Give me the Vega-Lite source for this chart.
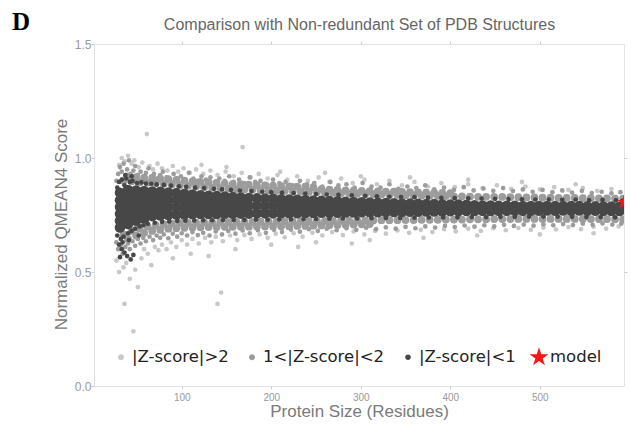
{
"$schema":"https://vega.github.io/schema/vega-lite/v6.json",
"width":530,"height":342,
"autosize":{"type":"none"},
"padding":{"left":94,"top":44,"right":7,"bottom":42},
"background":"white",
"title":{"text":"D","anchor":"start","frame":"group","font":"Liberation Serif","fontSize":25,"fontWeight":"bold","color":"#000000","dx":-82,"dy":22},
"config":{"view":{"stroke":"#e3e3e3","strokeWidth":1},"axis":{"grid":false,"domain":false,"labelFont":"Liberation Sans","titleFont":"Liberation Sans","titleFontWeight":"normal"}},
"resolve":{"axis":{"x":"independent","y":"independent"}},
"datasets":{
"lt":[{"x":30,"y":0.97},{"x":33,"y":1.0},{"x":36,"y":0.985},{"x":40,"y":1.01},{"x":44,"y":0.975},{"x":47,"y":0.99},{"x":52,"y":0.96},{"x":56,"y":0.98},{"x":61,"y":1.105},{"x":64,"y":0.965},{"x":68,"y":0.95},{"x":73,"y":0.975},{"x":78,"y":0.955},{"x":84,"y":0.945},{"x":90,"y":0.965},{"x":96,"y":0.94},{"x":102,"y":0.955},{"x":109,"y":0.935},{"x":116,"y":0.95},{"x":124,"y":0.93},{"x":132,"y":0.945},{"x":140,"y":0.925},{"x":149,"y":0.94},{"x":158,"y":0.92},{"x":168,"y":1.048},{"x":167,"y":0.935},{"x":177,"y":0.915},{"x":186,"y":0.93},{"x":196,"y":0.91},{"x":207,"y":0.925},{"x":218,"y":0.905},{"x":229,"y":0.92},{"x":241,"y":0.9},{"x":253,"y":0.915},{"x":265,"y":0.895},{"x":278,"y":0.91},{"x":291,"y":0.89},{"x":304,"y":0.905},{"x":318,"y":0.885},{"x":332,"y":0.9},{"x":346,"y":0.88},{"x":360,"y":0.895},{"x":375,"y":0.875},{"x":390,"y":0.89},{"x":405,"y":0.872},{"x":420,"y":0.885},{"x":436,"y":0.868},{"x":452,"y":0.88},{"x":468,"y":0.865},{"x":484,"y":0.875},{"x":500,"y":0.862},{"x":516,"y":0.872},{"x":532,"y":0.86},{"x":548,"y":0.868},{"x":564,"y":0.856},{"x":580,"y":0.864},{"x":122,"y":0.97},{"x":210,"y":0.94},{"x":300,"y":0.92},{"x":420,"y":0.905},{"x":150,"y":0.96},{"x":260,"y":0.935},{"x":355,"y":0.915},{"x":480,"y":0.895},{"x":540,"y":0.885},
{"x":27,"y":0.55},{"x":30,"y":0.5},{"x":36,"y":0.36},{"x":35,"y":0.52},{"x":38,"y":0.54},{"x":42,"y":0.47},{"x":46,"y":0.24},{"x":48,"y":0.51},{"x":51,"y":0.434},{"x":55,"y":0.56},{"x":58,"y":0.6},{"x":62,"y":0.58},{"x":66,"y":0.53},{"x":70,"y":0.61},{"x":74,"y":0.595},{"x":78,"y":0.62},{"x":83,"y":0.6},{"x":88,"y":0.63},{"x":94,"y":0.61},{"x":100,"y":0.64},{"x":106,"y":0.62},{"x":112,"y":0.645},{"x":119,"y":0.625},{"x":126,"y":0.65},{"x":133,"y":0.63},{"x":140,"y":0.36},{"x":144,"y":0.41},{"x":138,"y":0.655},{"x":146,"y":0.635},{"x":154,"y":0.66},{"x":162,"y":0.64},{"x":170,"y":0.662},{"x":178,"y":0.645},{"x":187,"y":0.665},{"x":196,"y":0.65},{"x":205,"y":0.668},{"x":215,"y":0.652},{"x":225,"y":0.67},{"x":235,"y":0.655},{"x":246,"y":0.672},{"x":257,"y":0.66},{"x":268,"y":0.675},{"x":280,"y":0.662},{"x":292,"y":0.678},{"x":304,"y":0.665},{"x":316,"y":0.68},{"x":328,"y":0.668},{"x":341,"y":0.682},{"x":354,"y":0.672},{"x":367,"y":0.685},{"x":380,"y":0.675},{"x":393,"y":0.688},{"x":406,"y":0.678},{"x":420,"y":0.69},{"x":434,"y":0.68},{"x":448,"y":0.692},{"x":462,"y":0.683},{"x":476,"y":0.693},{"x":490,"y":0.685},{"x":504,"y":0.695},{"x":518,"y":0.687},{"x":532,"y":0.697},{"x":546,"y":0.688},{"x":560,"y":0.698},{"x":574,"y":0.69},{"x":588,"y":0.7},{"x":110,"y":0.58},{"x":160,"y":0.6},{"x":200,"y":0.62},{"x":250,"y":0.63},{"x":310,"y":0.64},{"x":370,"y":0.65},{"x":430,"y":0.66},{"x":500,"y":0.665},{"x":560,"y":0.67},{"x":90,"y":0.56},{"x":130,"y":0.57},{"x":230,"y":0.61},{"x":290,"y":0.625}],
"mc":[{"x":35,"y":0.9},{"x":44,"y":0.898},{"x":53,"y":0.894},{"x":62,"y":0.892},{"x":71,"y":0.889},{"x":80,"y":0.887},{"x":89,"y":0.884},{"x":98,"y":0.881},{"x":107,"y":0.878},{"x":116,"y":0.875},{"x":125,"y":0.872},{"x":134,"y":0.87},{"x":143,"y":0.868},{"x":152,"y":0.866},{"x":161,"y":0.864},{"x":170,"y":0.862},{"x":179,"y":0.86},{"x":188,"y":0.859},{"x":197,"y":0.858},{"x":206,"y":0.856},{"x":215,"y":0.855},{"x":224,"y":0.854},{"x":233,"y":0.852},{"x":242,"y":0.851},{"x":251,"y":0.85},{"x":260,"y":0.848},{"x":269,"y":0.847},{"x":278,"y":0.845},{"x":287,"y":0.844},{"x":296,"y":0.843},{"x":305,"y":0.842},{"x":314,"y":0.841},{"x":323,"y":0.84},{"x":332,"y":0.839},{"x":341,"y":0.838},{"x":350,"y":0.837},{"x":359,"y":0.836},{"x":368,"y":0.835},{"x":377,"y":0.834},{"x":386,"y":0.834},{"x":395,"y":0.833},{"x":404,"y":0.832},{"x":413,"y":0.832},{"x":422,"y":0.831},{"x":431,"y":0.83},{"x":440,"y":0.83},{"x":449,"y":0.83},{"x":458,"y":0.829},{"x":467,"y":0.828},{"x":476,"y":0.828},{"x":485,"y":0.827},{"x":494,"y":0.827},{"x":503,"y":0.826},{"x":512,"y":0.826},{"x":521,"y":0.825},{"x":530,"y":0.825},{"x":539,"y":0.825},{"x":548,"y":0.824},{"x":557,"y":0.824},{"x":566,"y":0.823},{"x":575,"y":0.823},{"x":584,"y":0.822},{"x":593,"y":0.822},
{"x":40,"y":0.919},{"x":49,"y":0.916},{"x":58,"y":0.914},{"x":67,"y":0.912},{"x":76,"y":0.91},{"x":85,"y":0.907},{"x":94,"y":0.904},{"x":103,"y":0.901},{"x":112,"y":0.898},{"x":121,"y":0.895},{"x":130,"y":0.893},{"x":139,"y":0.891},{"x":148,"y":0.889},{"x":157,"y":0.887},{"x":166,"y":0.885},{"x":175,"y":0.883},{"x":184,"y":0.881},{"x":193,"y":0.88},{"x":202,"y":0.879},{"x":211,"y":0.877},{"x":220,"y":0.876},{"x":229,"y":0.875},{"x":238,"y":0.874},{"x":247,"y":0.872},{"x":256,"y":0.863},{"x":265,"y":0.861},{"x":274,"y":0.86},{"x":283,"y":0.858},{"x":292,"y":0.857},{"x":301,"y":0.856},{"x":310,"y":0.855},{"x":319,"y":0.854},{"x":328,"y":0.853},{"x":337,"y":0.852},{"x":346,"y":0.851},{"x":355,"y":0.85},{"x":364,"y":0.849},{"x":373,"y":0.848},{"x":382,"y":0.848},{"x":391,"y":0.847},{"x":400,"y":0.846},
{"x":35,"y":0.665},{"x":44,"y":0.68},{"x":53,"y":0.69},{"x":62,"y":0.7},{"x":71,"y":0.706},{"x":80,"y":0.71},{"x":89,"y":0.713},{"x":98,"y":0.715},{"x":107,"y":0.716},{"x":116,"y":0.717},{"x":125,"y":0.718},{"x":134,"y":0.718},{"x":143,"y":0.719},{"x":152,"y":0.719},{"x":161,"y":0.72},{"x":170,"y":0.72},{"x":179,"y":0.72},{"x":188,"y":0.721},{"x":197,"y":0.721},{"x":206,"y":0.721},{"x":215,"y":0.722},{"x":224,"y":0.722},{"x":233,"y":0.722},{"x":242,"y":0.723},{"x":251,"y":0.723},{"x":260,"y":0.724},{"x":269,"y":0.724},{"x":278,"y":0.725},{"x":287,"y":0.725},{"x":296,"y":0.726},{"x":305,"y":0.726},{"x":314,"y":0.726},{"x":323,"y":0.727},{"x":332,"y":0.727},{"x":341,"y":0.727},{"x":350,"y":0.728},{"x":359,"y":0.728},{"x":368,"y":0.729},{"x":377,"y":0.729},{"x":386,"y":0.729},{"x":395,"y":0.73},{"x":404,"y":0.73},{"x":413,"y":0.73},{"x":422,"y":0.731},{"x":431,"y":0.731},{"x":440,"y":0.731},{"x":449,"y":0.732},{"x":458,"y":0.732},{"x":467,"y":0.732},{"x":476,"y":0.733},{"x":485,"y":0.733},{"x":494,"y":0.733},{"x":503,"y":0.733},{"x":512,"y":0.733},{"x":521,"y":0.733},{"x":530,"y":0.733},{"x":539,"y":0.733},{"x":548,"y":0.733},{"x":557,"y":0.732},{"x":566,"y":0.732},{"x":575,"y":0.732},{"x":584,"y":0.731},{"x":593,"y":0.731},
{"x":40,"y":0.645},{"x":49,"y":0.66},{"x":58,"y":0.672},{"x":67,"y":0.68},{"x":76,"y":0.685},{"x":85,"y":0.69},{"x":94,"y":0.692},{"x":103,"y":0.694},{"x":112,"y":0.695},{"x":121,"y":0.696},{"x":130,"y":0.697},{"x":139,"y":0.697},{"x":148,"y":0.698},{"x":157,"y":0.698},{"x":166,"y":0.699},{"x":175,"y":0.699},{"x":184,"y":0.7},{"x":193,"y":0.7},{"x":202,"y":0.7},{"x":211,"y":0.701},{"x":220,"y":0.701},{"x":229,"y":0.702},{"x":238,"y":0.702},{"x":247,"y":0.703},{"x":256,"y":0.704},{"x":265,"y":0.705},{"x":274,"y":0.706},{"x":283,"y":0.707},{"x":292,"y":0.708},{"x":301,"y":0.709},{"x":310,"y":0.71}],
"ms":[{"x":27,"y":0.9},{"x":29,"y":0.93},{"x":31,"y":0.96},{"x":33,"y":0.94},{"x":35,"y":0.975},{"x":37,"y":0.92},{"x":39,"y":0.95},{"x":41,"y":0.99},{"x":43,"y":0.93},{"x":46,"y":0.945},{"x":48,"y":0.965},{"x":51,"y":0.925},{"x":54,"y":0.94},{"x":57,"y":0.915},{"x":60,"y":0.935},{"x":63,"y":0.955},{"x":66,"y":0.92},{"x":69,"y":0.93},{"x":72,"y":0.91},{"x":76,"y":0.925},{"x":79,"y":0.94},{"x":83,"y":0.915},{"x":87,"y":0.905},{"x":91,"y":0.93},{"x":95,"y":0.91},{"x":99,"y":0.92},{"x":104,"y":0.905},{"x":108,"y":0.935},{"x":113,"y":0.91},{"x":118,"y":0.9},{"x":122,"y":0.92},{"x":127,"y":0.905},{"x":132,"y":0.915},{"x":137,"y":0.895},{"x":142,"y":0.91},{"x":148,"y":0.9},{"x":153,"y":0.92},{"x":158,"y":0.895},{"x":164,"y":0.905},{"x":170,"y":0.89},{"x":176,"y":0.915},{"x":182,"y":0.895},{"x":188,"y":0.9},{"x":195,"y":0.885},{"x":202,"y":0.905},{"x":209,"y":0.89},{"x":216,"y":0.895},{"x":224,"y":0.88},{"x":232,"y":0.9},{"x":240,"y":0.885},{"x":248,"y":0.89},{"x":257,"y":0.875},{"x":266,"y":0.895},{"x":275,"y":0.88},{"x":284,"y":0.885},{"x":293,"y":0.87},{"x":302,"y":0.89},{"x":312,"y":0.875},{"x":322,"y":0.87},{"x":332,"y":0.885},{"x":342,"y":0.865},{"x":352,"y":0.875},{"x":362,"y":0.868},{"x":372,"y":0.88},{"x":382,"y":0.862},{"x":393,"y":0.87},{"x":404,"y":0.86},{"x":415,"y":0.872},{"x":426,"y":0.858},{"x":437,"y":0.866},{"x":448,"y":0.856},{"x":459,"y":0.868},{"x":470,"y":0.855},{"x":481,"y":0.862},{"x":492,"y":0.852},{"x":503,"y":0.86},{"x":514,"y":0.85},{"x":525,"y":0.858},{"x":536,"y":0.848},{"x":547,"y":0.856},{"x":558,"y":0.846},{"x":569,"y":0.852},{"x":580,"y":0.845},{"x":590,"y":0.85},
{"x":27,"y":0.63},{"x":29,"y":0.6},{"x":32,"y":0.62},{"x":34,"y":0.58},{"x":37,"y":0.61},{"x":40,"y":0.625},{"x":42,"y":0.6},{"x":45,"y":0.635},{"x":48,"y":0.615},{"x":51,"y":0.645},{"x":54,"y":0.625},{"x":57,"y":0.65},{"x":60,"y":0.635},{"x":64,"y":0.655},{"x":68,"y":0.64},{"x":72,"y":0.66},{"x":76,"y":0.65},{"x":80,"y":0.665},{"x":85,"y":0.648},{"x":90,"y":0.668},{"x":95,"y":0.655},{"x":100,"y":0.67},{"x":106,"y":0.66},{"x":112,"y":0.675},{"x":118,"y":0.662},{"x":124,"y":0.672},{"x":131,"y":0.66},{"x":138,"y":0.678},{"x":145,"y":0.665},{"x":152,"y":0.68},{"x":160,"y":0.668},{"x":168,"y":0.682},{"x":176,"y":0.67},{"x":185,"y":0.683},{"x":194,"y":0.672},{"x":203,"y":0.685},{"x":212,"y":0.675},{"x":222,"y":0.686},{"x":232,"y":0.677},{"x":242,"y":0.688},{"x":252,"y":0.68},{"x":262,"y":0.69},{"x":273,"y":0.683},{"x":284,"y":0.692},{"x":295,"y":0.685},{"x":306,"y":0.694},{"x":317,"y":0.688},{"x":328,"y":0.696},{"x":339,"y":0.69},{"x":350,"y":0.698},{"x":361,"y":0.692},{"x":372,"y":0.7},{"x":383,"y":0.695},{"x":394,"y":0.702},{"x":405,"y":0.697},{"x":416,"y":0.704},{"x":427,"y":0.699},{"x":438,"y":0.705},{"x":449,"y":0.7},{"x":460,"y":0.707},{"x":471,"y":0.702},{"x":482,"y":0.708},{"x":493,"y":0.703},{"x":504,"y":0.709},{"x":515,"y":0.705},{"x":526,"y":0.71},{"x":537,"y":0.706},{"x":548,"y":0.712},{"x":559,"y":0.707},{"x":570,"y":0.713},{"x":581,"y":0.708},{"x":591,"y":0.712}],
"dc":[{"x":31,"y":0.695},{"x":31,"y":0.725},{"x":31,"y":0.755},{"x":31,"y":0.785},{"x":31,"y":0.815},{"x":31,"y":0.848},
{"x":40,"y":0.71},{"x":40,"y":0.74},{"x":40,"y":0.77},{"x":40,"y":0.8},{"x":40,"y":0.83},{"x":40,"y":0.86},
{"x":49,"y":0.725},{"x":49,"y":0.752},{"x":49,"y":0.779},{"x":49,"y":0.806},{"x":49,"y":0.833},{"x":49,"y":0.858},
{"x":58,"y":0.735},{"x":58,"y":0.765},{"x":58,"y":0.795},{"x":58,"y":0.825},{"x":58,"y":0.855},
{"x":67,"y":0.745},{"x":67,"y":0.772},{"x":67,"y":0.799},{"x":67,"y":0.826},{"x":67,"y":0.853},
{"x":76,"y":0.748},{"x":76,"y":0.775},{"x":76,"y":0.802},{"x":76,"y":0.828},{"x":76,"y":0.852},
{"x":85,"y":0.75},{"x":85,"y":0.784},{"x":85,"y":0.817},{"x":85,"y":0.849},
{"x":94,"y":0.752},{"x":94,"y":0.784},{"x":94,"y":0.815},{"x":94,"y":0.846},
{"x":103,"y":0.752},{"x":103,"y":0.783},{"x":103,"y":0.813},{"x":103,"y":0.843},
{"x":112,"y":0.753},{"x":112,"y":0.782},{"x":112,"y":0.811},{"x":112,"y":0.84},
{"x":121,"y":0.754},{"x":121,"y":0.782},{"x":121,"y":0.81},{"x":121,"y":0.837},
{"x":130,"y":0.754},{"x":130,"y":0.781},{"x":130,"y":0.808},{"x":130,"y":0.835},
{"x":139,"y":0.754},{"x":139,"y":0.781},{"x":139,"y":0.807},{"x":139,"y":0.833},
{"x":148,"y":0.755},{"x":148,"y":0.781},{"x":148,"y":0.806},{"x":148,"y":0.831},
{"x":157,"y":0.755},{"x":157,"y":0.78},{"x":157,"y":0.805},{"x":157,"y":0.829},
{"x":166,"y":0.756},{"x":166,"y":0.78},{"x":166,"y":0.804},{"x":166,"y":0.827},
{"x":175,"y":0.756},{"x":175,"y":0.79},{"x":175,"y":0.825},
{"x":184,"y":0.757},{"x":184,"y":0.79},{"x":184,"y":0.823},
{"x":193,"y":0.757},{"x":193,"y":0.79},{"x":193,"y":0.822},
{"x":202,"y":0.757},{"x":202,"y":0.789},{"x":202,"y":0.821},
{"x":211,"y":0.758},{"x":211,"y":0.789},{"x":211,"y":0.819},
{"x":220,"y":0.758},{"x":220,"y":0.788},{"x":220,"y":0.818},
{"x":229,"y":0.758},{"x":229,"y":0.788},{"x":229,"y":0.817},
{"x":238,"y":0.759},{"x":238,"y":0.788},{"x":238,"y":0.816},
{"x":247,"y":0.759},{"x":247,"y":0.787},{"x":247,"y":0.814},
{"x":256,"y":0.76},{"x":256,"y":0.787},{"x":256,"y":0.813},
{"x":265,"y":0.76},{"x":265,"y":0.786},{"x":265,"y":0.811},
{"x":274,"y":0.76},{"x":274,"y":0.785},{"x":274,"y":0.81},
{"x":283,"y":0.761},{"x":283,"y":0.785},{"x":283,"y":0.808},
{"x":292,"y":0.761},{"x":292,"y":0.784},{"x":292,"y":0.807},
{"x":301,"y":0.762},{"x":301,"y":0.784},{"x":301,"y":0.806},
{"x":310,"y":0.762},{"x":310,"y":0.784},{"x":310,"y":0.805},
{"x":319,"y":0.762},{"x":319,"y":0.783},{"x":319,"y":0.804},
{"x":328,"y":0.763},{"x":328,"y":0.783},{"x":328,"y":0.803},
{"x":337,"y":0.763},{"x":337,"y":0.783},{"x":337,"y":0.802},
{"x":346,"y":0.763},{"x":346,"y":0.782},{"x":346,"y":0.801},
{"x":355,"y":0.764},{"x":355,"y":0.782},{"x":355,"y":0.8},
{"x":364,"y":0.764},{"x":364,"y":0.782},{"x":364,"y":0.799},
{"x":373,"y":0.765},{"x":373,"y":0.782},{"x":373,"y":0.798},
{"x":382,"y":0.765},{"x":382,"y":0.782},{"x":382,"y":0.798},
{"x":391,"y":0.765},{"x":391,"y":0.781},{"x":391,"y":0.797},
{"x":400,"y":0.766},{"x":400,"y":0.781},{"x":400,"y":0.796},
{"x":409,"y":0.766},{"x":409,"y":0.781},{"x":409,"y":0.796},
{"x":418,"y":0.767},{"x":418,"y":0.781},{"x":418,"y":0.795},
{"x":427,"y":0.767},{"x":427,"y":0.793},{"x":436,"y":0.768},{"x":436,"y":0.792},{"x":445,"y":0.767},{"x":445,"y":0.792},{"x":454,"y":0.768},{"x":454,"y":0.791},{"x":463,"y":0.768},{"x":463,"y":0.791},{"x":472,"y":0.769},{"x":472,"y":0.791},{"x":481,"y":0.768},{"x":481,"y":0.79},{"x":490,"y":0.769},{"x":490,"y":0.79},{"x":499,"y":0.769},{"x":499,"y":0.79},{"x":508,"y":0.77},{"x":508,"y":0.79},{"x":517,"y":0.769},{"x":517,"y":0.789},{"x":526,"y":0.77},{"x":526,"y":0.789},{"x":535,"y":0.769},{"x":535,"y":0.789},{"x":544,"y":0.77},{"x":544,"y":0.789},{"x":553,"y":0.768},{"x":553,"y":0.788},{"x":562,"y":0.769},{"x":562,"y":0.788},{"x":571,"y":0.768},{"x":571,"y":0.787},{"x":580,"y":0.767},{"x":580,"y":0.787},{"x":589,"y":0.767},{"x":589,"y":0.786}],
"de":[{"x":28,"y":0.87},{"x":30,"y":0.895},{"x":33,"y":0.905},{"x":36,"y":0.88},{"x":38,"y":0.91},{"x":42,"y":0.895},{"x":45,"y":0.9},{"x":50,"y":0.89},{"x":55,"y":0.893},{"x":60,"y":0.888},{"x":66,"y":0.887},{"x":72,"y":0.884},{"x":80,"y":0.882},{"x":88,"y":0.879},{"x":97,"y":0.876},{"x":105,"y":0.874},{"x":115,"y":0.87},{"x":125,"y":0.868},{"x":136,"y":0.865},{"x":145,"y":0.862},{"x":155,"y":0.86},{"x":165,"y":0.857},{"x":178,"y":0.855},{"x":190,"y":0.852},{"x":200,"y":0.85},{"x":212,"y":0.848},{"x":225,"y":0.846},{"x":238,"y":0.844},{"x":250,"y":0.842},{"x":262,"y":0.84},{"x":275,"y":0.838},{"x":290,"y":0.836},{"x":305,"y":0.834},{"x":318,"y":0.832},{"x":332,"y":0.83},{"x":345,"y":0.829},{"x":360,"y":0.828},{"x":375,"y":0.826},{"x":390,"y":0.825},{"x":405,"y":0.824},{"x":420,"y":0.823},{"x":435,"y":0.822},{"x":450,"y":0.821},{"x":465,"y":0.82},{"x":480,"y":0.819},{"x":495,"y":0.818},{"x":510,"y":0.818},{"x":525,"y":0.817},{"x":540,"y":0.818},{"x":555,"y":0.815},{"x":570,"y":0.816},{"x":585,"y":0.814},{"x":592,"y":0.812},
{"x":28,"y":0.66},{"x":32,"y":0.645},{"x":35,"y":0.655},{"x":40,"y":0.67},{"x":44,"y":0.68},{"x":48,"y":0.69},{"x":53,"y":0.7},{"x":57,"y":0.705},{"x":62,"y":0.712},{"x":70,"y":0.716},{"x":78,"y":0.72},{"x":86,"y":0.722},{"x":95,"y":0.724},{"x":104,"y":0.725},{"x":114,"y":0.726},{"x":124,"y":0.727},{"x":134,"y":0.727},{"x":146,"y":0.728},{"x":158,"y":0.728},{"x":170,"y":0.729},{"x":183,"y":0.73},{"x":196,"y":0.73},{"x":209,"y":0.731},{"x":222,"y":0.731},{"x":236,"y":0.732},{"x":250,"y":0.733},{"x":265,"y":0.734},{"x":280,"y":0.735},{"x":296,"y":0.735},{"x":312,"y":0.736},{"x":328,"y":0.737},{"x":344,"y":0.737},{"x":360,"y":0.738},{"x":376,"y":0.739},{"x":392,"y":0.739},{"x":408,"y":0.74},{"x":424,"y":0.741},{"x":440,"y":0.741},{"x":456,"y":0.742},{"x":472,"y":0.742},{"x":488,"y":0.743},{"x":504,"y":0.743},{"x":520,"y":0.743},{"x":536,"y":0.742},{"x":552,"y":0.741},{"x":568,"y":0.741},{"x":584,"y":0.74},
{"x":30,"y":0.62},{"x":33,"y":0.6},{"x":36,"y":0.585},{"x":39,"y":0.57},{"x":43,"y":0.555},{"x":46,"y":0.575},{"x":34,"y":0.63},{"x":41,"y":0.64},{"x":31,"y":0.565},{"x":52,"y":0.66},{"x":29,"y":0.69},{"x":37,"y":0.925},{"x":44,"y":0.92}],
"md":[{"x":594,"y":0.806}]
},
"layer":[
{"data":{"name":"lt"},"mark":{"type":"point","shape":"circle","filled":true,"size":22,"opacity":1,"strokeWidth":0,"clip":true},
"encoding":{
"x":{"field":"x","type":"quantitative","scale":{"domain":[2,594],"nice":false,"zero":false},"axis":{"orient":"bottom","title":"Protein Size (Residues)","values":[100,200,300,400,500],"labelFontSize":10,"labelColor":"#9a9a9a","tickColor":"#cfcfcf","tickSize":3,"labelPadding":3,"titleFontSize":17,"titleColor":"#7a7a7a","titlePadding":1}},
"y":{"field":"y","type":"quantitative","scale":{"domain":[0,1.5],"nice":false,"zero":false},"axis":{"orient":"left","title":"Normalized QMEAN4 Score","titleY":180,"values":[0,0.5,1,1.5],"format":".1f","labelFontSize":12,"labelColor":"#9a9a9a","tickColor":"#cfcfcf","tickSize":3,"labelPadding":0,"titleFontSize":17,"titleColor":"#7a7a7a","titlePadding":4}},
"color":{"datum":"|Z-score|>2","scale":{"domain":["|Z-score|>2","1<|Z-score|<2","|Z-score|<1","model"],"range":["#c8c8c8","#9c9c9c","#474747","#ff1414"]},"legend":{"title":null,"orient":"none","legendX":17,"legendY":303,"direction":"horizontal","labelFont":"DejaVu Sans","labelFontSize":16.5,"labelColor":"#222222","symbolSize":400,"labelOffset":1,"columnPadding":13,"padding":0,"symbolStrokeWidth":0}}}},
{"data":{"name":"mc"},"mark":{"type":"point","shape":"circle","filled":true,"size":60,"opacity":1,"strokeWidth":0,"clip":true},
"encoding":{
"x":{"field":"x","type":"quantitative","axis":{"orient":"top","title":"Comparison with Non-redundant Set of PDB Structures","values":[100,200,300,400,500],"labels":false,"tickColor":"#cfcfcf","tickSize":3,"titleFontSize":16,"titleColor":"#666666","titlePadding":8}},
"y":{"field":"y","type":"quantitative","axis":{"orient":"right","title":null,"values":[0.5,1],"labels":false,"tickColor":"#cfcfcf","tickSize":3}},
"color":{"datum":"1<|Z-score|<2"}}},
{"data":{"name":"ms"},"mark":{"type":"point","shape":"circle","filled":true,"size":22,"opacity":1,"strokeWidth":0,"clip":true},
"encoding":{"x":{"field":"x","type":"quantitative","axis":null},"y":{"field":"y","type":"quantitative","axis":null},"color":{"datum":"1<|Z-score|<2"}}},
{"data":{"name":"dc"},"mark":{"type":"point","shape":"circle","filled":true,"size":110,"opacity":1,"strokeWidth":0,"clip":true},
"encoding":{"x":{"field":"x","type":"quantitative","axis":null},"y":{"field":"y","type":"quantitative","axis":null},"color":{"datum":"|Z-score|<1"}}},
{"data":{"name":"de"},"mark":{"type":"point","shape":"circle","filled":true,"size":22,"opacity":1,"strokeWidth":0,"clip":true},
"encoding":{"x":{"field":"x","type":"quantitative","axis":null},"y":{"field":"y","type":"quantitative","axis":null},"color":{"datum":"|Z-score|<1"}}},
{"data":{"name":"md"},"mark":{"type":"point","filled":true,"size":220,"opacity":1,"strokeWidth":0,"clip":true},
"encoding":{"x":{"field":"x","type":"quantitative","axis":null},"y":{"field":"y","type":"quantitative","axis":null},"color":{"datum":"model"},
"shape":{"datum":"model","scale":{"domain":["|Z-score|>2","1<|Z-score|<2","|Z-score|<1","model"],"range":["M0.3,0A0.3,0.3,0,1,1,-0.3,0A0.3,0.3,0,1,1,0.3,0Z","M0.3,0A0.3,0.3,0,1,1,-0.3,0A0.3,0.3,0,1,1,0.3,0Z","M0.28,0A0.28,0.28,0,1,1,-0.28,0A0.28,0.28,0,1,1,0.28,0Z","M0,-1L0.225,-0.309L0.951,-0.309L0.363,0.118L0.588,0.809L0,0.382L-0.588,0.809L-0.363,0.118L-0.951,-0.309L-0.225,-0.309Z"]},"legend":{"title":null,"orient":"none","legendX":17,"legendY":303,"direction":"horizontal","labelFont":"DejaVu Sans","labelFontSize":16.5,"labelColor":"#222222","symbolSize":400,"labelOffset":1,"columnPadding":13,"padding":0,"symbolStrokeWidth":0}}}}
]
}
